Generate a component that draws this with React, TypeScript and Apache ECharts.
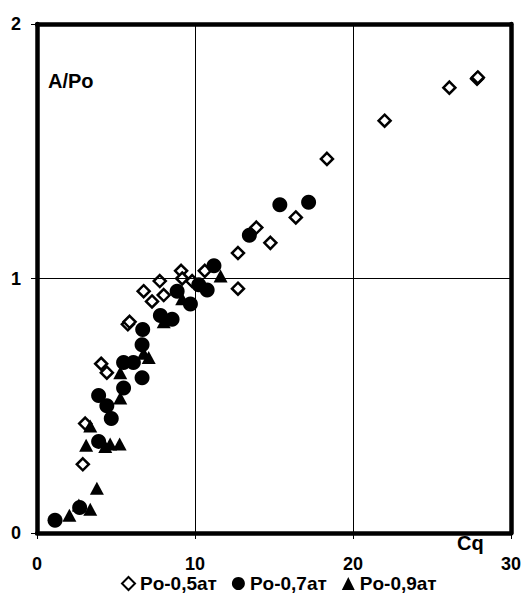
import React, { useEffect, useRef } from "react";
import * as echarts from "echarts";

const xTicks = [0, 10, 20, 30];
const yTicks = [0, 1, 2];

const seriesNames = ["Po-0,5ат", "Po-0,7ат", "Po-0,9ат"];

const po05: number[][] = [
  [2.9, 0.27], [3.05, 0.43], [4.06, 0.665], [4.42, 0.63], [5.75, 0.82], [5.86, 0.83],
  [6.75, 0.95], [7.28, 0.91], [7.77, 0.99], [8.02, 0.935], [9.12, 1.03], [9.19, 1.0],
  [9.82, 0.99], [10.62, 1.03], [12.72, 1.1], [12.72, 0.96], [13.88, 1.2], [14.77, 1.14],
  [16.38, 1.24], [18.35, 1.47], [22.0, 1.62], [26.1, 1.75], [27.85, 1.785], [27.9, 1.79],
];

const po07: number[][] = [
  [1.14, 0.05], [2.7, 0.1], [3.9, 0.36], [3.9, 0.54], [4.42, 0.5], [4.7, 0.45],
  [5.48, 0.57], [5.48, 0.67], [6.1, 0.67], [6.65, 0.61], [6.65, 0.74], [6.69, 0.8],
  [7.81, 0.855], [8.55, 0.84], [8.87, 0.95], [9.71, 0.9], [10.24, 0.975], [10.77, 0.955],
  [11.2, 1.05], [13.44, 1.17], [15.37, 1.29], [17.19, 1.3],
];

const po09: number[][] = [
  [2.05, 0.07], [2.65, 0.11], [3.37, 0.093], [3.79, 0.176], [3.11, 0.345], [3.37, 0.42],
  [4.32, 0.34], [4.63, 0.35], [5.23, 0.35], [5.27, 0.53], [5.27, 0.63], [6.75, 0.706],
  [7.07, 0.69], [8.02, 0.83], [9.19, 0.92], [11.62, 1.01],
];

const FONT = "'Liberation Sans', Arial, sans-serif";

const labelStyle = {
  color: "#000",
  fontSize: 18,
  fontWeight: "bold",
  fontFamily: FONT,
};

const frameLine = { show: true, onZero: false, lineStyle: { color: "#000", width: 4.5 } };

export default function App() {
  const ref = useRef<HTMLDivElement>(null);
  useEffect(() => {
    document.body.style.margin = "0";
    const chart = echarts.init(ref.current!, null, { renderer: "svg" });
    const xMin = xTicks[0];
    const xMax = xTicks[xTicks.length - 1];
    const yMin = yTicks[0];
    const yMax = yTicks[yTicks.length - 1];
    chart.setOption({
      animation: false,
      backgroundColor: "#fff",
      grid: { left: 37, right: 16, top: 24, bottom: 66 },
      xAxis: [
        {
          type: "value",
          position: "bottom",
          min: xMin,
          max: xMax,
          interval: 10,
          axisLine: frameLine,
          axisTick: { show: true, length: 6, inside: false, lineStyle: { color: "#000", width: 1 } },
          splitLine: { show: true, lineStyle: { color: "#000", width: 1 } },
          axisLabel: { ...labelStyle, margin: 22 },
          z: 10,
        },
        {
          type: "value",
          position: "top",
          min: xMin,
          max: xMax,
          interval: 10,
          axisLine: frameLine,
          axisTick: { show: false },
          splitLine: { show: false },
          axisLabel: { show: false },
          z: 10,
        },
      ],
      yAxis: [
        {
          type: "value",
          position: "left",
          min: yMin,
          max: yMax,
          interval: 1,
          axisLine: frameLine,
          axisTick: { show: true, length: 6, inside: false, lineStyle: { color: "#000", width: 1 } },
          splitLine: { show: true, lineStyle: { color: "#000", width: 1 } },
          axisLabel: { ...labelStyle, margin: 16 },
          z: 10,
        },
        {
          type: "value",
          position: "right",
          min: yMin,
          max: yMax,
          interval: 1,
          axisLine: frameLine,
          axisTick: { show: false },
          splitLine: { show: false },
          axisLabel: { show: false },
          z: 10,
        },
      ],
      legend: {
        left: 116,
        top: 569,
        itemGap: 15,
        itemWidth: 13,
        itemHeight: 13,
        textStyle: { color: "#000", fontSize: 19, fontWeight: "bold", fontFamily: FONT },
        data: [
          { name: seriesNames[0], icon: "diamond", itemStyle: { color: "#fff", borderColor: "#000", borderWidth: 2 } },
          { name: seriesNames[1], icon: "circle" },
          { name: seriesNames[2], icon: "triangle" },
        ],
      },
      graphic: [
        {
          type: "text",
          left: 48,
          top: 71,
          style: { text: "A/Po", fill: "#000", font: `bold 20px ${FONT}` },
        },
        {
          type: "text",
          left: 457,
          top: 533,
          style: { text: "Cq", fill: "#000", font: `bold 20px ${FONT}` },
        },
      ],
      series: [
        {
          name: seriesNames[0],
          type: "scatter",
          data: po05,
          symbol: "diamond",
          symbolSize: 12,
          itemStyle: { color: "#fff", borderColor: "#000", borderWidth: 2.5, opacity: 1 },
          z: 3,
        },
        {
          name: seriesNames[1],
          type: "scatter",
          data: po07,
          symbol: "circle",
          symbolSize: 15,
          itemStyle: { color: "#000", opacity: 1 },
          z: 4,
        },
        {
          name: seriesNames[2],
          type: "scatter",
          data: po09,
          symbol: "triangle",
          symbolSize: [14, 13],
          itemStyle: { color: "#000", opacity: 1 },
          z: 5,
        },
      ],
    });
    return () => chart.dispose();
  }, []);
  return <div ref={ref} style={{ width: 527, height: 599 }} />;
}
